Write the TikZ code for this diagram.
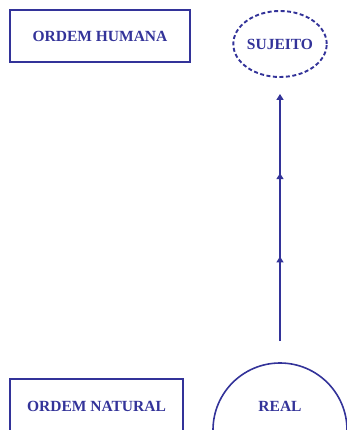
\documentclass[tikz,border=0pt]{standalone}
\usepackage{fontspec}
\setmainfont{Liberation Serif}
\usetikzlibrary{arrows.meta}
\usetikzlibrary{shapes.geometric}
\usetikzlibrary{decorations.markings}

\definecolor{ordemblue}{RGB}{51,51,153}

\begin{document}
\begin{tikzpicture}[x=1pt, y=-1pt, >={Triangle[width=7pt, length=6pt]},
  every node/.style={text=ordemblue, font=\fontsize{15.5}{18}\selectfont\bfseries},
  ordembox/.style={draw=ordemblue, line width=2pt, rectangle, inner sep=0pt},
  sujeitoshape/.style={draw=ordemblue, ellipse, inner sep=0pt, line width=1.9pt, dash pattern=on 4pt off 2.5pt},
  realshape/.style={draw=ordemblue, circle, inner sep=0pt, line width=1.6pt, minimum size=134pt},
  ligacao/.style={draw=ordemblue, line width=2pt, ->, shorten >=16pt, shorten <=21pt,
    postaction={decorate, decoration={markings,
      mark=at position 0.372 with {\arrow[ordemblue]{>}},
      mark=at position 0.665 with {\arrow[ordemblue]{>}}}}}]
  % moldura da figura
  \clip (0, 0) rectangle (347, 430);

  % ordens (caixas da esquerda)
  \node[ordembox, minimum width=180pt, minimum height=52pt] (humana) at (100, 36) {ORDEM HUMANA};
  \node[ordembox, minimum width=173pt, minimum height=54pt] (natural) at (96.5, 406) {ORDEM NATURAL};

  % sujeito (elipse tracejada)
  \node[sujeitoshape, minimum width=90pt, minimum height=66pt] (sujeito) at (280, 44) {SUJEITO};

  % real (circulo cortado pela margem)
  \node[realshape] (real) at (280, 430) {};
  \node (realtxt) at (280, 406) {REAL};

  % ligacao do real ao sujeito
  \draw[ligacao] (real) -- (sujeito);
\end{tikzpicture}
\end{document}
